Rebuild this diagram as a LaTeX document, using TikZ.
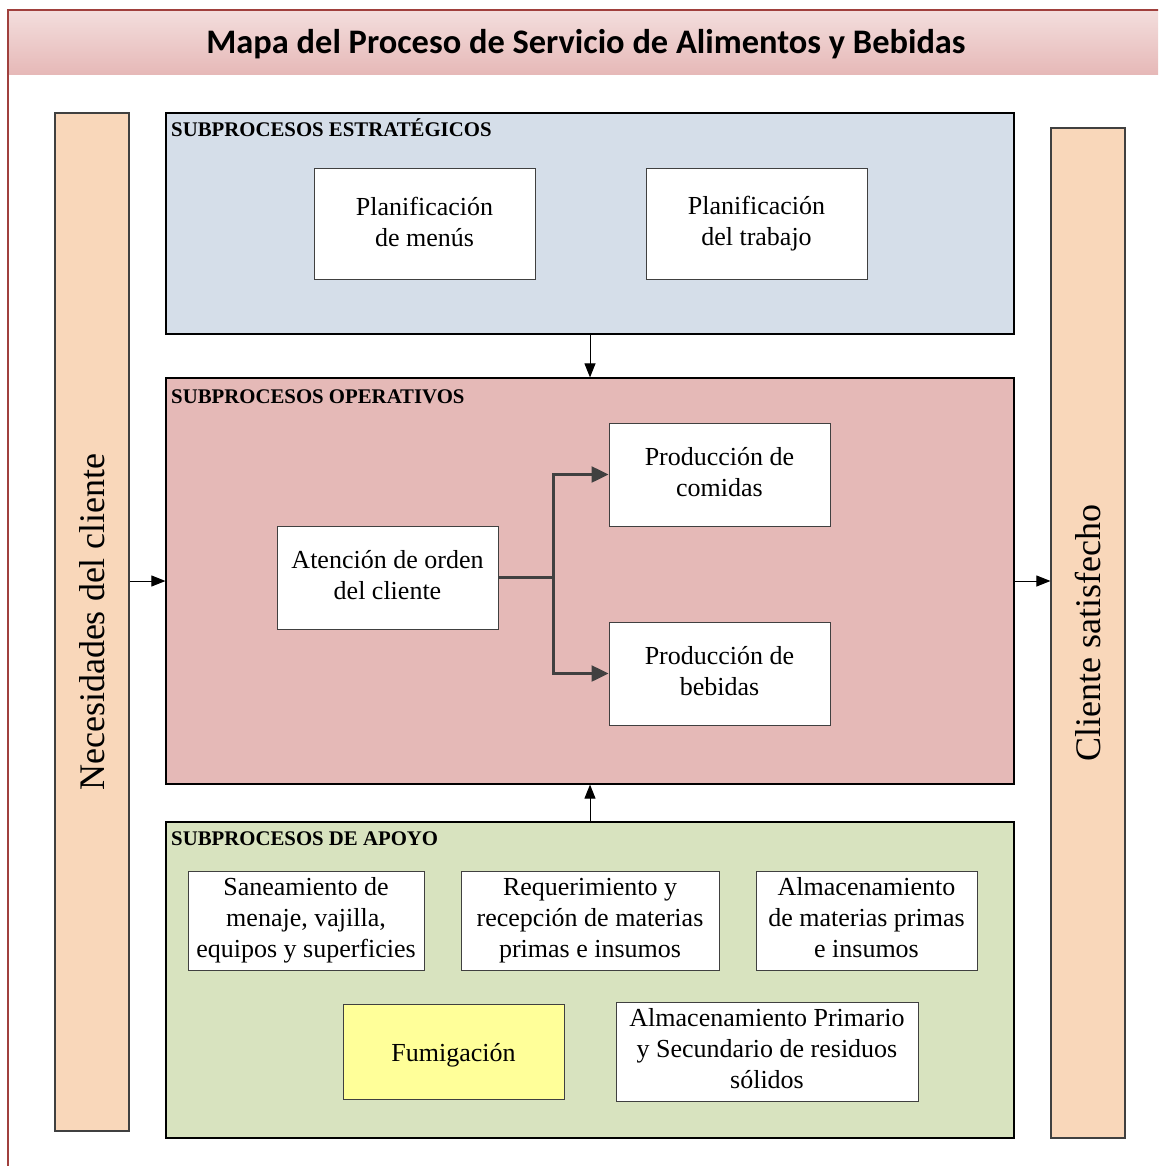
\documentclass[tikz,border=0pt]{standalone}
\usepackage{fontspec}
\setmainfont{Liberation Serif}
\newfontfamily\titlefont{Carlito}
\usetikzlibrary{arrows.meta,positioning,calc}
\definecolor{framered}{HTML}{A0403D}
\definecolor{titletop}{HTML}{F3DEDD}
\definecolor{titlebot}{HTML}{E6B8B7}
\definecolor{estblue}{HTML}{D5DEE9}
\definecolor{operred}{HTML}{E5B9B7}
\definecolor{apogreen}{HTML}{D8E3BF}
\definecolor{peach}{HTML}{F9D7BA}
\definecolor{fumyellow}{HTML}{FFFF99}
\definecolor{conngray}{HTML}{404040}
\newcommand{\boxstrut}{\rule[-5.3pt]{0pt}{31pt}}
\tikzset{
  bigbox/.style={draw=black, line width=1.2pt, rectangle, inner sep=0pt},
  procbox/.style={draw=conngray, line width=1pt, fill=white, rectangle, align=center,
    inner sep=2pt, font=\fontsize{26}{31}\selectfont,
    execute at begin node=\boxstrut, execute at end node=\boxstrut},
  sidebar/.style={draw=conngray, line width=1.2pt, fill=peach, rectangle, rotate=90,
    minimum height=74pt, font=\fontsize{36}{40}\selectfont},
  grouplabel/.style={anchor=base west, inner sep=0pt, font=\bfseries\fontsize{20.8}{24}\selectfont},
  thinarrow/.style={draw=black, line width=1pt, -{Triangle[length=14pt,width=11pt]}},
  thickarrow/.style={draw=conngray, line width=2.5pt, -{Triangle[length=17pt,width=16pt]}},
}
\begin{document}
\begin{tikzpicture}[x=1pt,y=-1pt]
\clip (0,0) rectangle (1158,1166);
\fill[white] (0,0) rectangle (1158,1166);
% outer frame and title band
\shade[top color=titletop, bottom color=titlebot] (8,10) rectangle (1160,75);
\draw[framered, line width=1.5pt] (8,1180) -- (8,10) -- (1170,10);
\node[font=\titlefont\bfseries\fontsize{34.4}{40}\selectfont, inner sep=0pt] (title) at (586,44) {Mapa del Proceso de Servicio de Alimentos y Bebidas};

% side bars
\node[sidebar, minimum width=1018pt] (nec) at (92,622) {Necesidades del cliente};
\node[sidebar, minimum width=1010pt] (cli) at (1088,633) {Cliente satisfecho};

% group boxes
\node[bigbox, fill=estblue, minimum width=848pt, minimum height=221pt] (est) at (590,223.5) {};
\node[bigbox, fill=operred, minimum width=848pt, minimum height=406pt] (ope) at (590,581) {};
\node[bigbox, fill=apogreen, minimum width=848pt, minimum height=316pt] (apo) at (590,980) {};

\node[grouplabel] (lest) at (171,137) {SUBPROCESOS ESTRATÉGICOS};
\node[grouplabel] (lope) at (171,403) {SUBPROCESOS OPERATIVOS};
\node[grouplabel] (lapo) at (171,845) {SUBPROCESOS DE APOYO};

% strategic
\node[procbox, minimum width=221pt, minimum height=110pt] (pmen) at (424.5,224) {Planificación\\de menús};
\node[procbox, minimum width=221pt, minimum height=110pt] (ptra) at (756.5,224) {Planificación\\del trabajo};

% operative
\node[procbox, minimum width=221pt, minimum height=103pt] (aten) at (387.5,577.5) {Atención de orden\\del cliente};
\node[procbox, minimum width=221pt, minimum height=103pt] (pcom) at (719.5,474.5) {Producción de\\comidas};
\node[procbox, minimum width=221pt, minimum height=103pt] (pbeb) at (719.5,673.5) {Producción de\\bebidas};

% support
\node[procbox, minimum width=236pt, minimum height=99pt] (sane) at (306,920.5) {Saneamiento de\\menaje, vajilla,\\equipos y superficies};
\node[procbox, minimum width=258pt, minimum height=99pt] (requ) at (590,920.5) {Requerimiento y\\recepción de materias\\primas e insumos};
\node[procbox, minimum width=221pt, minimum height=99pt] (alma) at (866.5,920.5) {Almacenamiento\\de materias primas\\e insumos};
\node[procbox, fill=fumyellow, minimum width=221pt, minimum height=95pt] (fumi) at (453.5,1051.5) {Fumigación};
\node[procbox, minimum width=302pt, minimum height=99pt] (resi) at (767,1051.5) {Almacenamiento Primario\\y Secundario de residuos\\sólidos};

% connectors
\draw[thinarrow] (est.south) -- (ope.north);
\draw[thinarrow] (apo.north) -- (ope.south);
\draw[thinarrow] (nec.south |- ope.west) -- (ope.west);
\draw[thinarrow] (ope.east) -- (cli.north |- ope.east);
\coordinate (split) at ($(aten.east)+(55,0)$);
\draw[draw=conngray, line width=2.5pt] (aten.east) -- (split);
\draw[thickarrow] (split) |- (pcom.west);
\draw[thickarrow] (split) |- (pbeb.west);
\end{tikzpicture}
\end{document}
